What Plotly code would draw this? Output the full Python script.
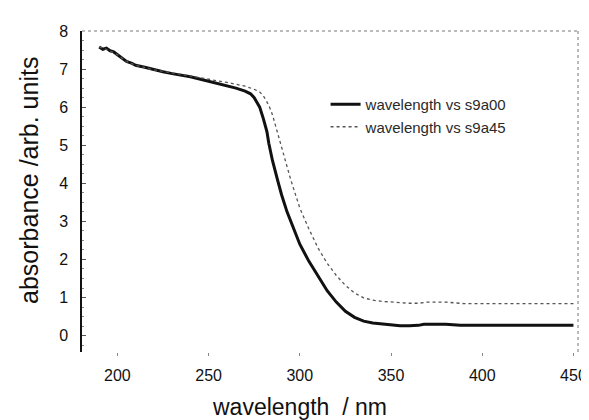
import plotly.graph_objects as go

# wavelength (nm)
wl_a = [190, 192, 194, 196, 198, 200, 203, 205, 208, 210, 215, 220, 225, 230, 235, 240, 245, 250,
        255, 260, 265, 270, 273, 275, 277, 278, 280, 282, 283, 285, 288, 290, 293, 295, 298, 300,
        305, 310, 315, 320, 325, 330, 335, 340, 345, 350, 355, 360, 365, 368, 370, 380, 388, 390,
        400, 420, 450]
s9a00 = [7.58, 7.52, 7.55, 7.48, 7.45, 7.38, 7.28, 7.2, 7.15, 7.1, 7.05, 6.98, 6.93, 6.88, 6.84, 6.8,
         6.74, 6.68, 6.62, 6.55, 6.5, 6.42, 6.35, 6.25, 6.1, 6.0, 5.7, 5.35, 5.05, 4.6, 4.05, 3.7,
         3.25, 3.0, 2.65, 2.4, 1.95, 1.55, 1.18, 0.88, 0.64, 0.48, 0.38, 0.33, 0.3, 0.28, 0.26, 0.26,
         0.27, 0.3, 0.3, 0.3, 0.27, 0.27, 0.27, 0.27, 0.27]

wl_b = [190, 195, 200, 205, 210, 220, 230, 240, 250, 260, 265, 270, 275, 278, 280, 283, 285, 288,
        290, 293, 295, 298, 300, 305, 310, 315, 320, 325, 330, 335, 340, 345, 350, 360, 365, 368,
        370, 380, 388, 390, 400, 420, 450]
s9a45 = [7.58, 7.5, 7.38, 7.2, 7.1, 6.98, 6.9, 6.82, 6.74, 6.65, 6.6, 6.55, 6.47, 6.4, 6.3, 6.05,
         5.8, 5.3, 4.9, 4.4, 4.1, 3.65, 3.35, 2.8, 2.3, 1.9, 1.58, 1.32, 1.12, 0.99, 0.93, 0.9,
         0.88, 0.85, 0.85, 0.88, 0.88, 0.88, 0.85, 0.84, 0.84, 0.84, 0.84]

x_ticks = [200, 250, 300, 350, 400, 450]
y_ticks = [0, 1, 2, 3, 4, 5, 6, 7, 8]

FONT = "Liberation Sans, Arial, sans-serif"
W, H = 589, 420
ML, MR, MT, MB = 74, 10, 23, 76
PW, PH = W - ML - MR, H - MT - MB

fig = go.Figure()
fig.add_trace(go.Scatter(x=wl_a, y=s9a00, mode="lines", name="wavelength vs s9a00",
                         line=dict(color="#111111", width=3)))
fig.add_trace(go.Scatter(x=wl_b, y=s9a45, mode="lines", name="wavelength vs s9a45",
                         line=dict(color="#555555", width=1.3, dash="dot")))

fig.update_layout(
    width=W, height=H,
    margin=dict(l=ML, r=MR, t=MT, b=MB),
    paper_bgcolor="white", plot_bgcolor="white",
    font=dict(family=FONT, color="#111111"),
    showlegend=True,
    legend=dict(x=(322 - ML) / PW, y=1 - (80 - MT) / PH, xanchor="left", yanchor="top",
                bgcolor="rgba(0,0,0,0)", font=dict(size=15, color="#2a2a2a"),
                tracegroupgap=0),
    xaxis=dict(range=[180.6, 452.5], tickvals=x_ticks, ticks="outside", ticklen=3,
               tickcolor="#888888", showline=False, showgrid=False, zeroline=False,
               tickfont=dict(size=16), ticklabelstandoff=6),
    yaxis=dict(range=[-0.43, 8.0], tickvals=y_ticks, ticks="inside", ticklen=4,
               tickcolor="#555555", showline=True, linecolor="#111111", linewidth=1.5,
               showgrid=False, zeroline=False, tickfont=dict(size=16), ticklabelstandoff=9,
               minor=dict(dtick=0.25, ticks="inside", ticklen=2, tickcolor="#888888")),
)

# axis titles
fig.add_annotation(text="wavelength  / nm", xref="paper", yref="paper",
                   x=(295 - ML) / PW, y=-(399 - MT - PH) / PH, xanchor="center", yanchor="middle",
                   showarrow=False, font=dict(size=23, color="#111111"))
fig.add_annotation(text="absorbance /arb. units", xref="paper", yref="paper",
                   x=(20 - ML) / PW, y=1 - (172 - MT) / PH, xanchor="center", yanchor="middle",
                   textangle=-90, showarrow=False, font=dict(size=25, color="#111111"))

# dotted top and right frame
fig.add_shape(type="line", xref="paper", yref="paper", x0=0, x1=1, y0=1, y1=1,
              line=dict(color="#777777", width=1, dash="dot"))
fig.add_shape(type="line", xref="paper", yref="paper", x0=1, x1=1, y0=0, y1=1,
              line=dict(color="#777777", width=1, dash="dot"))

fig.write_html("out.html")
